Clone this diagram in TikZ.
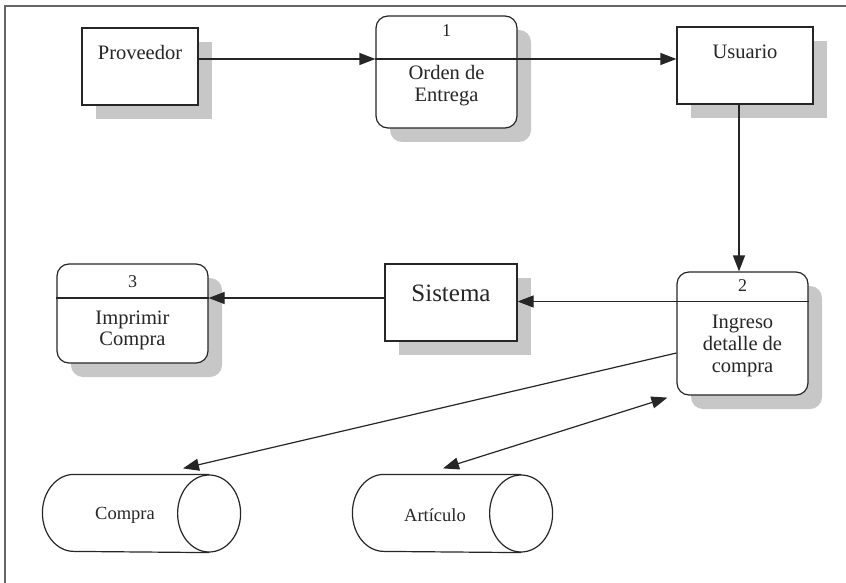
\documentclass[tikz,border=0pt]{standalone}
\usepackage{fontspec}
\setmainfont{Liberation Serif}
\usetikzlibrary{arrows.meta,shadows,calc}
\begin{document}
\begin{tikzpicture}[x=1pt,y=-1pt,
 line width=1.2pt,
 txt/.style={font=\fontsize{20.5}{22}\selectfont, text=black!85, align=center, inner sep=0pt},
 num/.style={font=\fontsize{18}{20}\selectfont, text=black!85, inner sep=0pt},
 store/.style={font=\fontsize{18.5}{20}\selectfont, text=black!85, inner sep=0pt},
 entbox/.style={draw=black!85, fill=white, rectangle, inner sep=0pt,
   drop shadow={shadow xshift=14pt, shadow yshift=-14pt, fill=black!22, opacity=1}},
 procbox/.style={entbox, rounded corners=12pt},
 flow/.style={draw=black!85, -{Triangle[length=16pt,width=12pt]}},
 biflow/.style={draw=black!85, {Triangle[length=16pt,width=12pt]}-{Triangle[length=16pt,width=12pt]}},
 div/.style={draw=black!85},
 storeline/.style={draw=black!85},
]
\useasboundingbox (0,0) rectangle (846,583);
\draw[black!60, line width=1.5pt] (5,583) -- (5,6) -- (846,6);

% Proveedor
\node[entbox, minimum width=116pt, minimum height=77pt] (prov) at (140,66.5) {};
\node[txt] (provt) at (140,52) {Proveedor};

% Process 1
\node[procbox, minimum width=141pt, minimum height=112pt] (p1) at (446.5,72) {};
\coordinate (d1w) at ([yshift=13pt]p1.west);
\coordinate (d1e) at ([yshift=13pt]p1.east);
\draw[div] (d1w) -- (d1e);
\node[num] (p1n) at (446.5,31) {1};
\node[txt] (p1t) at (446.5,86) {Orden de\\Entrega};

% Usuario
\node[entbox, minimum width=136pt, minimum height=77pt] (usu) at (745,65.5) {};
\node[txt] (usut) at (745,52) {Usuario};

% Process 2
\node[procbox, minimum width=131pt, minimum height=123pt] (p2) at (742.5,333.5) {};
\coordinate (d2w) at ([yshift=32pt]p2.west);
\coordinate (d2e) at ([yshift=32pt]p2.east);
\draw[div] (d2w) -- (d2e);
\node[num] (p2n) at (742.5,286) {2};
\node[txt] (p2t) at (742.5,345.5) {Ingreso\\detalle de\\compra};

% Sistema
\node[entbox, minimum width=132pt, minimum height=77pt] (sis) at (451,302.5) {};
\node[txt, font=\fontsize{25}{27}\selectfont] (sist) at (451,293) {Sistema};

% Process 3
\node[procbox, minimum width=151pt, minimum height=99pt] (p3) at (132.5,313.5) {};
\coordinate (d3w) at ([yshift=15.5pt]p3.west);
\coordinate (d3e) at ([yshift=15.5pt]p3.east);
\draw[div] (d3w) -- (d3e);
\node[num] (p3n) at (132.5,282) {3};
\node[txt, font=\fontsize{20.5}{21}\selectfont] (p3t) at (132.5,330.5) {Imprimir\\Compra};

% Store Compra
\node[minimum width=197pt, minimum height=77pt, inner sep=0pt] (compra) at (141.5,513.5) {};
\draw[storeline] ([xshift=-31.5pt]compra.north east) -- ([xshift=31.5pt]compra.north west)
  arc[start angle=90, end angle=270, x radius=31.5pt, y radius=38.5pt]
  -- ([xshift=-31.5pt]compra.south east);
\draw[storeline] ([xshift=-31.5pt]compra.east) ellipse [x radius=31.5pt, y radius=38.5pt];
\node[store] (comprat) at (125,515) {Compra};

% Store Articulo
\node[minimum width=199pt, minimum height=77pt, inner sep=0pt] (art) at (452.5,513.5) {};
\draw[storeline] ([xshift=-31.5pt]art.north east) -- ([xshift=31.5pt]art.north west)
  arc[start angle=90, end angle=270, x radius=31.5pt, y radius=38.5pt]
  -- ([xshift=-31.5pt]art.south east);
\draw[storeline] ([xshift=-31.5pt]art.east) ellipse [x radius=31.5pt, y radius=38.5pt];
\node[store] (artt) at (435,515) {Artículo};

% Flows
\draw[flow] (prov.east |- d1w) -- (d1w);
\draw[flow] (d1e) -- (usu.west |- d1e);
\draw[flow] ([xshift=-6pt]usu.south) -- ([xshift=-6pt]usu.south |- p2.north);
\draw[flow] (d2w) -- (sis.east |- d2w);
\draw[flow] (sis.west |- d3e) -- (d3e);
\draw[flow] ([yshift=-19.5pt]p2.west) -- ([xshift=41.5pt,yshift=6pt]compra.north);
\draw[biflow] ([xshift=-9pt,yshift=-2pt]p2.south west) -- ([xshift=-9.5pt,yshift=6pt]art.north);
\end{tikzpicture}
\end{document}
